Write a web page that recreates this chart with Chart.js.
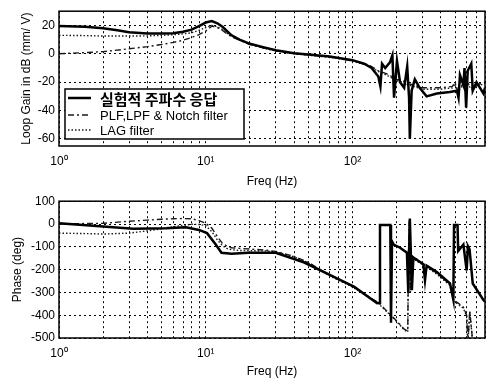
<!DOCTYPE html>
<html lang="ko">
<head>
<meta charset="UTF-8">
<title>Loop Gain / Phase</title>
<script src="https://cdn.jsdelivr.net/npm/chart.js@4.4.0/dist/chart.umd.min.js"></script>
<style>
  body { margin: 0; background: #fff; }
  #wrap { position: relative; width: 493px; height: 384px; }
  canvas { position: absolute; left: 0; }
</style>
</head>
<body>
<div id="wrap">
  <canvas id="gain" width="493" height="190" style="top:0"></canvas>
  <canvas id="phase" width="493" height="194" style="top:190px"></canvas>
</div>
<script>
// ---- data ----
const xTicks = [1,2,3,4,5,6,7,8,9,10,20,30,40,50,60,70,80,90,100,200,300,400,500,600,700,800];
const xTickLabels = {1: '10\u2070', 10: '10\u00b9', 100: '10\u00b2'};
const gainTicks = [-60, -40, -20, 0, 20];
const phaseTicks = [-500, -400, -300, -200, -100, 0, 100];
const seriesNames = ['실험적 주파수 응답', 'PLF,LPF & Notch filter', 'LAG filter'];

// measured (solid)
const freqExpGain = [1,1.5,2,2.5,3,4,5,6,7,8,9,10,11,12,13,15,17,20,25,30,40,50,70,100,120,135,150,155,159,167,180,187,192,201,211,225,236,243,246,253,266,287,320,376,460,515,528,540,570,580,595,610,645,660,700,780,800];
const gainExp = [19.5,19,18,16.5,15.2,14.3,14.2,14.5,15.5,17,19.5,22,23,21.5,19,13,10,7,4.5,2.5,0.3,-0.5,-2,-4.5,-7,-10,-16,-23,-7,-10,-6,-1,-31,-5,-20,-24,-9,-31,-60,-26,-18,-24,-30,-28,-27,-26,-31,-15,-22,-10,-38,-12,-7,-26,-20,-28,-24];

// models (dash-dot, dotted)
const freqModelGain = [1,1.5,2,3,4,5,6,7,8,9,10,11,12,13,14,15,17,20,25,30,40,50,70,100,130,150,170,185,200,220,240,260,300,400,480,500,520,560,600,650,700,800];
const gainNotch = [0,0.8,1.5,3.5,5,6.5,8,9.5,11.5,13.5,16,19.5,18.5,16.5,14,12,9.5,6.5,4,2.3,0.3,-0.8,-2.2,-4.8,-8,-12,-14,-16,-18,-19,-21,-22,-24,-24,-23,-20,-26,-22,-20,-24,-22,-20];
const gainLag = [13,12.8,12.5,12.5,12.6,13,13.4,14,14.8,16.5,18.5,20,19,17,14.5,12.5,9.8,6.8,3.8,2,0,-1,-2.5,-5,-8.5,-12.5,-15,-17,-19,-20,-22,-23,-25,-25,-24,-21,-27,-23,-21,-25,-23,-21];

const freqExpPhase = [1,2,3.2,5.4,7.3,9,10.2,11.7,12.8,15,19.5,30,47,79,103,132,147,153,154,181,183,186,191,211,235,240,246,254,260,304,312,320,376,462,487,492,520,525,570,600,612,628,660,780,800];
const phaseExp = [3,-11,-21,-19,-14,-26,-40,-90,-126,-130,-126,-126,-169,-240,-276,-326,-347,-345,-4,-4,-433,-76,-90,-104,-126,-300,24,-290,-147,-176,-247,-183,-211,-261,-333,-4,-4,-119,-90,-204,-97,-111,-261,-333,-340];

const freqModelPhase = [1,1.5,2,3,4,5,6,7,8,9,10,11,12,13,14,15,17,20,25,30,40,50,70,100,130,150,160,181,200,225,238,241,244,248,255,300,376,462,490,520,570,600,612,630,660,800];
const phaseNotch = [0,2,3,12,17,21,23,24,23,15,3,-18,-55,-85,-98,-104,-107,-110,-114,-120,-142,-168,-225,-273,-320,-345,-362,-397,-425,-461,-470,-120,20,-300,-140,-172,-215,-265,-335,-345,-365,-400,-520,-380,-520,-540];
const phaseLag = [-40,-42,-44,-40,-30,-21,-12,-6,-1,-2,-7,-33,-70,-95,-108,-113,-116,-117,-118,-122,-144,-170,-228,-276,-323,-348,-366,-400,-428,-464,-474,-110,10,-290,-150,-178,-220,-270,-340,-350,-370,-405,-520,-385,-520,-540];

// ---- helpers ----
const FONT = "'Liberation Sans', Arial, sans-serif";
const KFONT = "'Noto Sans CJK KR', sans-serif";
const pts = (xs, ys) => xs.map((x, i) => ({x: x, y: ys[i]}));

const styles = [
  {borderColor: '#000', borderWidth: 2.5, borderDash: []},
  {borderColor: '#1a1a1a', borderWidth: 1.4, borderDash: [6, 3, 2, 3]},
  {borderColor: '#1a1a1a', borderWidth: 1.4, borderDash: [1.5, 2]}
];

function series(name, data, i) {
  return Object.assign({label: name, data: data, pointRadius: 0, tension: 0, fill: false}, styles[i]);
}

// box around the plot area
const frame = {
  id: 'frame',
  afterDraw(chart) {
    const a = chart.chartArea, ctx = chart.ctx;
    ctx.save();
    ctx.strokeStyle = '#000';
    ctx.lineWidth = 1.5;
    ctx.strokeRect(a.left, a.top, a.right - a.left, a.bottom - a.top);
    ctx.restore();
  }
};

// legend box inside the gain plot
const boxLegend = {
  id: 'boxLegend',
  afterDatasetsDraw(chart, args, opts) {
    if (!opts.show) return;
    const a = chart.chartArea, ctx = chart.ctx;
    const x0 = a.left + 6, y0 = 89, w = 179, h = 50;
    const rows = [98, 115, 130];
    const maxW = [136, 138, 60];
    ctx.save();
    ctx.fillStyle = '#fff';
    ctx.fillRect(x0, y0, w, h);
    ctx.strokeStyle = '#000';
    ctx.lineWidth = 1.5;
    ctx.strokeRect(x0, y0, w, h);
    chart.data.datasets.forEach((ds, i) => {
      const y = rows[i];
      ctx.beginPath();
      ctx.setLineDash(ds.borderDash);
      ctx.lineWidth = ds.borderWidth;
      ctx.strokeStyle = ds.borderColor;
      ctx.moveTo(x0 + 3, y);
      ctx.lineTo(x0 + 26, y);
      ctx.stroke();
      ctx.setLineDash([]);
      ctx.fillStyle = '#000';
      ctx.textBaseline = 'middle';
      ctx.font = i === 0 ? 'bold 15px ' + KFONT : '13px ' + FONT;
      ctx.fillText(ds.label, x0 + 35, y + 1, maxW[i]);
    });
    ctx.restore();
  }
};

function makeChart(id, o) {
  return new Chart(document.getElementById(id), {
    type: 'line',
    data: {datasets: o.datasets},
    plugins: [frame, boxLegend],
    options: {
      responsive: false,
      animation: false,
      events: [],
      layout: {padding: {top: o.padTop, right: 4, left: 0, bottom: 0}},
      plugins: {legend: {display: false}, tooltip: {enabled: false}, boxLegend: {show: o.legend}},
      scales: {
        x: {
          type: 'logarithmic', min: 1, max: 800,
          afterBuildTicks: s => { s.ticks = xTicks.map(v => ({value: v})); },
          afterFit: s => { s.height = o.xHeight; },
          ticks: {
            autoSkip: false, maxRotation: 0, padding: 8, color: '#000',
            font: {family: FONT, size: 12},
            callback: v => xTickLabels[v] || ''
          },
          grid: {color: '#000', lineWidth: 1, drawTicks: false},
          border: {display: false, dash: [2, 3]},
          title: {display: true, text: 'Freq (Hz)', color: '#000',
                  font: {family: FONT, size: 12}, padding: {top: 0, bottom: o.xTitlePad}}
        },
        y: {
          min: o.yMin, max: o.yMax,
          afterBuildTicks: s => { s.ticks = o.yTicks.map(v => ({value: v})); },
          afterFit: s => { s.width = 59; },
          ticks: {padding: 4, color: '#000', font: {family: FONT, size: 12}},
          grid: {color: '#000', lineWidth: 1, drawTicks: false},
          border: {display: false, dash: [2, 3]},
          title: {display: true, text: o.yTitle, color: '#000',
                  font: {family: FONT, size: 12}, padding: {top: o.yTitlePad, bottom: 0}}
        }
      }
    }
  });
}

makeChart('gain', {
  datasets: [
    series(seriesNames[0], pts(freqExpGain, gainExp), 0),
    series(seriesNames[1], pts(freqModelGain, gainNotch), 1),
    series(seriesNames[2], pts(freqModelGain, gainLag), 2)
  ],
  padTop: 8, xHeight: 44, xTitlePad: 1, yTitlePad: 19,
  yMin: -65, yMax: 30, yTicks: gainTicks,
  yTitle: 'Loop Gain in dB (mm/ V)', legend: true
});

makeChart('phase', {
  datasets: [
    series(seriesNames[0], pts(freqExpPhase, phaseExp), 0),
    series(seriesNames[1], pts(freqModelPhase, phaseNotch), 1),
    series(seriesNames[2], pts(freqModelPhase, phaseLag), 2)
  ],
  padTop: 9, xHeight: 46, xTitlePad: 5, yTitlePad: 10,
  yMin: -500, yMax: 100, yTicks: phaseTicks,
  yTitle: 'Phase (deg)', legend: false
});
</script>
</body>
</html>
